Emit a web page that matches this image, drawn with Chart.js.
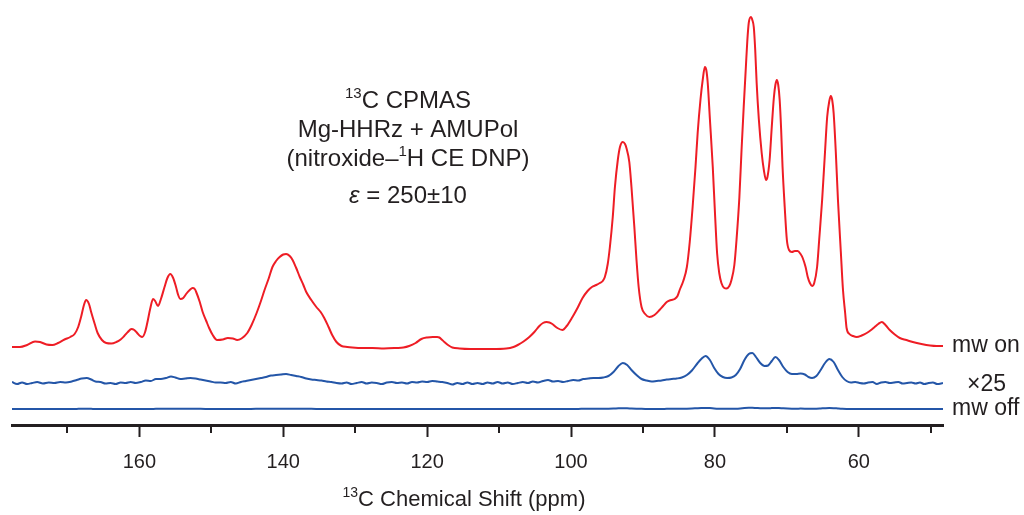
<!DOCTYPE html>
<html>
<head>
<meta charset="utf-8">
<script src="https://cdn.jsdelivr.net/npm/chart.js@4.4.1/dist/chart.umd.min.js"></script>
<style>
  html, body { margin: 0; padding: 0; background: #ffffff; }
  canvas { display: block; }
</style>
</head>
<body>
<canvas id="spectrum" width="1024" height="515"></canvas>
<script>
// 13C CPMAS spectra, chemical shift in ppm (descending) and intensity.
const axisMin = 48.3;
const axisMax = 177.7;
const majorTicks = [160, 140, 120, 100, 80, 60];
const minorTicks = [170, 150, 130, 110, 90, 70, 50];

// Microwaves on (DNP enhanced)
const mwOnPpm = [177.7,176.6,175.6,174.5,173.8,172.9,172.1,171.3,170.4,169.6,169.0,168.5,168.1,167.7,167.4,167.0,166.7,166.2,165.8,165.2,164.6,163.9,163.2,162.6,162.1,161.6,161.1,160.7,160.3,159.9,159.6,159.2,158.9,158.5,158.1,157.8,157.4,157.0,156.5,156.1,155.7,155.3,154.9,154.6,154.3,153.9,153.5,153.0,152.6,152.3,152.1,151.6,151.2,150.7,150.3,149.8,149.2,148.4,147.7,147.0,146.4,145.8,145.0,144.4,143.7,143.1,142.6,142.0,141.5,141.0,140.5,140.0,139.6,139.1,138.7,138.2,137.7,137.2,136.8,136.1,135.4,134.8,134.3,133.7,133.2,132.6,131.9,131.1,130.4,129.0,127.6,126.0,124.3,123.3,122.5,121.6,120.8,120.0,119.2,118.6,118.3,117.9,117.6,117.0,116.5,115.5,114.0,112.7,111.0,109.0,108.0,107.4,106.6,105.8,105.1,104.4,103.9,103.4,103.0,102.6,101.9,101.2,100.6,99.8,99.1,98.4,97.7,97.1,96.5,96.0,95.6,95.3,94.9,94.6,94.2,93.9,93.5,93.2,92.8,92.5,92.3,91.9,91.6,91.2,90.9,90.6,90.2,89.7,89.1,88.4,87.7,87.2,86.7,86.1,85.6,85.2,84.9,84.4,83.9,83.5,83.1,82.7,82.4,82.0,81.7,81.4,81.2,81.0,80.7,80.3,80.0,79.7,79.4,79.1,78.7,78.4,78.0,77.7,77.3,77.0,76.6,76.3,76.0,75.7,75.5,75.3,75.0,74.8,74.6,74.4,74.2,73.9,73.5,73.2,72.9,72.7,72.4,72.1,71.8,71.6,71.4,71.2,71.0,70.8,70.6,70.3,70.0,69.7,69.3,68.9,68.5,68.1,67.8,67.4,67.1,66.8,66.5,66.2,65.8,65.5,65.1,64.7,64.4,64.1,63.9,63.7,63.5,63.2,62.9,62.5,62.2,61.9,61.7,61.3,60.8,60.3,59.6,58.9,58.3,57.8,57.3,56.8,56.3,55.7,55.0,54.3,53.4,52.5,51.3,50.1,49.2,48.3];
const mwOnInt = [0,0,2,5.5,5,2.5,2,4,7.5,10,13,20,30,42,47,43,35,23,14,7,4,3.5,5,7.5,11,15,18,17,14,11,10,15,24,38,48,46,41,48,60,69,73,69,60,52,48,49,53,57,59,58,55,45,35,26,19,12,7,7.5,9,8.5,7,8.5,14,22,34,46,57,69,80,86,90,92.5,93,91,87,79,70,62,55,47,40,35,29,20,12,5,1,0,-0.5,-1,-1,-1.5,-1,-0.5,1,4,8,9.5,10,10,9.5,7,5,1.5,-0.5,-1.5,-2,-2,-2,-1.5,0,2,5.5,10,15,21,24,25,24.5,23,19,17,21,30,39,49,56,60,62,64,66,70,83,100,130,160,187,200,205,203,199,185,160,120,87,60,40,33,30,32,37,41,45,47,48,51,57,66,80,105,140,180,214,248,267,280,277,264,228,180,135,94,74,64,59,58.5,61,67,82,107,150,197,240,280,306,324,330,327,320,297,264,228,194,177,167,170,187,220,250,262,267,262,247,218,180,140,107,97,95,96,96,93,89,80,70,64,61,64,80,108,147,195,230,246,251,247,234,195,147,95,57,34,19,13,11,10,11.5,14,17,20,23,25,22,17,12.5,9,7,5,3,1.5,1,1];

// Microwaves off, shown multiplied by 25
const mwOffPpm = [177.7,177.0,176.3,175.6,174.9,174.2,173.4,172.6,171.8,171.0,170.2,169.4,168.7,168.0,167.3,166.7,166.1,165.4,164.7,164.0,163.3,162.6,161.9,161.2,160.5,159.8,159.1,158.4,157.7,157.0,156.3,155.6,155.0,154.3,153.6,152.9,152.2,151.5,150.8,150.1,149.4,148.7,148.0,147.3,146.6,145.9,145.2,144.5,143.8,143.1,142.4,141.7,141.0,140.3,139.6,138.9,138.2,137.5,136.8,136.1,135.4,134.7,134.0,133.3,132.6,131.9,131.2,130.5,129.8,129.1,128.4,127.7,127.0,126.3,125.6,124.9,124.2,123.5,122.8,122.1,121.4,120.7,120.0,119.3,118.6,117.9,117.2,116.5,115.8,115.1,114.4,113.7,113.0,112.3,111.6,110.9,110.2,109.5,108.8,108.1,107.4,106.7,106.0,105.3,104.6,103.9,103.2,102.5,101.8,101.1,100.4,99.7,99.0,98.3,97.6,96.9,96.2,95.5,94.8,94.1,93.4,92.8,92.2,91.6,90.9,90.2,89.5,88.8,88.1,87.4,86.7,86.0,85.3,84.6,83.9,83.2,82.5,81.9,81.3,80.7,80.1,79.5,78.9,78.3,77.7,77.1,76.5,75.9,75.3,74.8,74.3,73.7,73.1,72.6,72.1,71.6,71.1,70.5,69.9,69.3,68.7,68.1,67.5,67.0,66.5,65.9,65.3,64.7,64.1,63.5,62.9,62.3,61.7,61.1,60.5,59.9,59.3,58.7,58.1,57.5,56.9,56.3,55.7,55.1,54.5,53.9,53.3,52.7,52.1,51.5,50.9,50.3,49.7,49.1,48.3];
const mwOffX25 = [1,-1,0.5,-1,0,1,-0.5,0.5,0,1,0.5,1.5,3,4.5,5,3.5,1.5,1,-0.5,0,-1,0.5,0,1,0,1,2.5,2,4,4,5,6.5,5.5,4,4.5,5,4.5,3.5,2.5,1.5,0.5,0.5,0,1,-0.5,1,2,3,4,5,6,7.5,8,8.5,9,8,7,6,4.5,3.5,3,2.5,1.5,1,0,-0.5,0.5,-1,0,1,-0.5,0.5,0,-1,0.5,1,0,0.5,-0.5,1,0.5,1.5,1,2,1.5,1,0,-1.5,0,-1,0.5,-1,0,-1,0.5,-0.5,1,-0.5,0.5,-1,0,1,0,1.5,0.5,2,3,1.5,2,1,2,3,2.5,4,4.5,5,5,5.5,7,11,17,20,18,13,8,4,2.5,1.5,2,2.5,3.5,4,4.5,5.5,8,12.5,19,24,27,23,15,9,6,5,5.5,8,14,23,29,30,26,20,17,17.5,22,26,23,16,11,9,9,9.5,8.5,6,5,7,13,20,24,21,13,6,2,0.5,1,0,-0.5,0.5,1,-1,0.5,1,0,0.5,1,-0.5,0,0.5,-0.5,0.5,-1,0,0.5,-1,0];

const scaleFactor = 25;
const seriesNames = ['mw on', '×25', 'mw off'];

// vertical stacking of the three traces (baseline of each trace)
const baseOn = 78, baseX25 = 42, baseOff = 16;

const RED = '#ee1d25';
const BLUE = '#2456a8';
const INK = '#231f20';
const FONT = "'Liberation Sans', Arial, Helvetica, sans-serif";

function pts(xs, ys, base, k) {
  return xs.map((x, i) => ({ x: x, y: base + ys[i] * k }));
}

const annotationLines = [
  [{ t: '13', sup: true }, { t: 'C CPMAS' }],
  [{ t: 'Mg-HHRz + AMUPol' }],
  [{ t: '(nitroxide–' }, { t: '1', sup: true }, { t: 'H CE DNP)' }],
  [{ t: 'ε', italic: true }, { t: ' = 250±10' }]
];
const axisTitle = [{ t: '13', sup: true }, { t: 'C Chemical Shift (ppm)' }];

function partFont(p, size) {
  const s = p.sup ? Math.round(size * 0.62) : size;
  return (p.italic ? 'italic ' : '') + s + 'px ' + FONT;
}

function drawRich(ctx, parts, cx, cy, size) {
  let total = 0;
  parts.forEach(p => { ctx.font = partFont(p, size); total += ctx.measureText(p.t).width; });
  let x = cx - total / 2;
  parts.forEach(p => {
    ctx.font = partFont(p, size);
    ctx.fillText(p.t, x, p.sup ? cy - size * 0.3 : cy);
    x += ctx.measureText(p.t).width;
  });
}

const decorations = {
  id: 'decorations',
  afterDraw(chart) {
    const { ctx, chartArea, scales } = chart;
    const xs = scales.x, ys = scales.y;
    ctx.save();
    // minor ticks
    ctx.strokeStyle = INK;
    ctx.lineWidth = 2;
    minorTicks.forEach(v => {
      const px = Math.round(xs.getPixelForValue(v));
      ctx.beginPath();
      ctx.moveTo(px, chartArea.bottom);
      ctx.lineTo(px, chartArea.bottom + 8);
      ctx.stroke();
    });
    ctx.fillStyle = INK;
    ctx.textAlign = 'left';
    ctx.textBaseline = 'middle';
    // axis title
    drawRich(ctx, axisTitle, 464, 500, 22);
    // sample description
    const lineY = [101, 130, 159, 196];
    annotationLines.forEach((parts, i) => drawRich(ctx, parts, 408, lineY[i], 24));
    // trace labels
    ctx.font = '23px ' + FONT;
    const lx = chartArea.right + 9;
    ctx.fillText(seriesNames[0], lx, ys.getPixelForValue(baseOn) - 1);
    ctx.fillText(seriesNames[1], lx + 15, ys.getPixelForValue(baseX25) + 2);
    ctx.fillText(seriesNames[2], lx, ys.getPixelForValue(baseOff));
    ctx.restore();
  }
};

new Chart(document.getElementById('spectrum'), {
  type: 'line',
  data: {
    datasets: [
      { label: seriesNames[0], data: pts(mwOnPpm, mwOnInt, baseOn, 1), borderColor: RED, borderWidth: 2 },
      { label: seriesNames[1], data: pts(mwOffPpm, mwOffX25, baseX25, 1), borderColor: BLUE, borderWidth: 2 },
      { label: seriesNames[2], data: pts(mwOffPpm, mwOffX25, baseOff, 1 / scaleFactor), borderColor: BLUE, borderWidth: 2 }
    ]
  },
  options: {
    responsive: false,
    animation: false,
    devicePixelRatio: 1,
    layout: { padding: { top: 5, left: 12, right: 81, bottom: 0 } },
    elements: {
      point: { radius: 0 },
      line: { cubicInterpolationMode: 'monotone', fill: false }
    },
    plugins: { legend: { display: false }, tooltip: { enabled: false } },
    scales: {
      x: {
        type: 'linear',
        reverse: true,
        min: axisMin,
        max: axisMax,
        afterBuildTicks: s => { s.ticks = majorTicks.map(v => ({ value: v })); },
        afterFit: s => { s.height = 90; },
        ticks: {
          autoSkip: false,
          maxRotation: 0,
          padding: 13,
          color: INK,
          font: { family: FONT, size: 20 }
        },
        grid: {
          drawOnChartArea: false,
          drawTicks: true,
          tickLength: 12,
          tickWidth: 2,
          tickColor: INK
        },
        border: { display: true, color: INK, width: 3 },
        title: { display: false }
      },
      y: { display: false, min: 0, max: 420 }
    }
  },
  plugins: [decorations]
});
</script>
</body>
</html>
